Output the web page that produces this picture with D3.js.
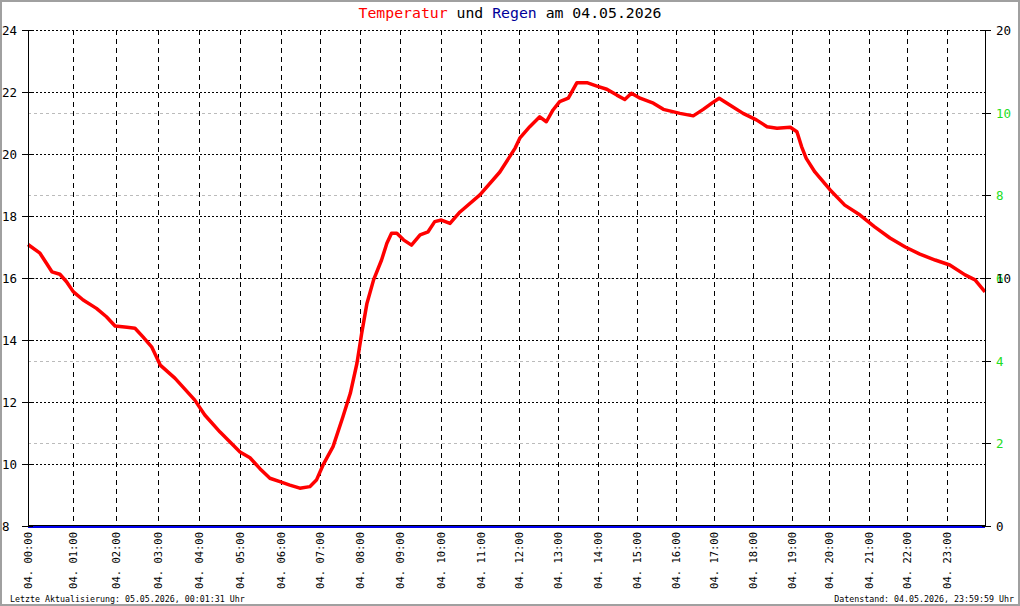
<!DOCTYPE html>
<html lang="de">
<head>
  <meta charset="utf-8" />
  <style>
    body { margin: 0; background: #fff; }
    svg text { font-family: "DejaVu Sans Mono", monospace; }
  </style>
</head>
<body>
<script src="https://cdn.jsdelivr.net/npm/d3@7/dist/d3.min.js"></script>
<script>

// Stundenmarken (Messindex, an dem die Stunde beginnt) und ihre Beschriftung
const stundenIndex = [0, 68, 132, 195, 257, 319, 380, 440, 500, 560, 622, 681, 739,
  798, 857, 916, 975, 1032, 1091, 1149, 1206, 1265, 1323, 1383];
const stundenLabels = ['04. 00:00', '04. 01:00', '04. 02:00', '04. 03:00', '04. 04:00',
  '04. 05:00', '04. 06:00', '04. 07:00', '04. 08:00', '04. 09:00', '04. 10:00',
  '04. 11:00', '04. 12:00', '04. 13:00', '04. 14:00', '04. 15:00', '04. 16:00',
  '04. 17:00', '04. 18:00', '04. 19:00', '04. 20:00', '04. 21:00', '04. 22:00',
  '04. 23:00'];
const anzahlMessungen = 1440;

// Temperaturverlauf (Messindex / Grad C)
const messIndex = [0, 18, 28, 36, 48, 58, 68, 83, 103, 118, 131, 149, 161, 173, 186,
  199, 221, 251, 266, 289, 319, 334, 349, 364, 379, 394, 409, 424, 434, 444, 459,
  474, 485, 495, 502, 510, 520, 532, 540, 547, 555, 565, 577, 590, 602, 612, 622,
  635, 650, 680, 710, 733, 740, 755, 770, 780, 790, 800, 813, 826, 841, 856, 871,
  886, 898, 908, 921, 941, 956, 981, 1001, 1016, 1029, 1040, 1056, 1076, 1096,
  1112, 1127, 1147, 1157, 1164, 1171, 1184, 1207, 1229, 1252, 1274, 1297, 1320,
  1342, 1365, 1387, 1410, 1425, 1440];
const temperatur = [17.08, 16.8, 16.47, 16.2, 16.12, 15.88, 15.56, 15.29, 15.02, 14.75,
  14.45, 14.41, 14.38, 14.1, 13.78, 13.19, 12.77, 12.06, 11.58, 11.03, 10.39, 10.2,
  9.85, 9.54, 9.43, 9.32, 9.22, 9.27, 9.48, 9.97, 10.56, 11.53, 12.28, 13.25, 14.2,
  15.18, 15.94, 16.58, 17.12, 17.44, 17.44, 17.23, 17.06, 17.39, 17.49, 17.82, 17.87,
  17.76, 18.13, 18.68, 19.42, 20.19, 20.51, 20.88, 21.2, 21.04, 21.42, 21.69, 21.8,
  22.3, 22.3, 22.19, 22.09, 21.9, 21.76, 21.96, 21.8, 21.64, 21.44, 21.31, 21.23,
  21.44, 21.64, 21.8, 21.58, 21.31, 21.1, 20.88, 20.83, 20.86, 20.72, 20.24, 19.86,
  19.42, 18.84, 18.35, 18.03, 17.65, 17.29, 17.0, 16.77, 16.58, 16.42, 16.1, 15.94,
  15.55];

// Regen (mm) je Stundenmarke
const regen = [0, 0, 0, 0, 0, 0, 0, 0, 0, 0, 0, 0, 0, 0, 0, 0, 0, 0, 0, 0, 0, 0, 0, 0];

// Achsenbeschriftungen
const tempTicks = [8, 10, 12, 14, 16, 18, 20, 22, 24];
const regenTicks = [0, 10, 20];
const gruenTicks = [2, 4, 6, 8, 10];

const titel = [
  { text: 'Temperatur', farbe: '#ff0000' },
  { text: ' und ', farbe: '#000000' },
  { text: 'Regen', farbe: '#000099' },
  { text: ' am 04.05.2026', farbe: '#000000' }
];
const fussLinks = 'Letzte Aktualisierung: 05.05.2026, 00:01:31 Uhr';
const fussRechts = 'Datenstand: 04.05.2026, 23:59:59 Uhr';

const W = 1020, H = 606;
const margin = { top: 30, right: 35, bottom: 80, left: 28 };
const width = W - margin.left - margin.right;
const height = H - margin.top - margin.bottom;

const svg = d3.select('body').append('svg')
  .attr('width', W).attr('height', H);

svg.append('rect')
  .attr('x', 1).attr('y', 1).attr('width', W - 2).attr('height', H - 2)
  .attr('fill', '#fff').attr('stroke', '#a0a0a0').attr('stroke-width', 2);

const g = svg.append('g')
  .attr('transform', `translate(${margin.left}, ${margin.top})`);

const x = d3.scaleLinear().domain([0, anzahlMessungen]).range([0, width]);
const y = d3.scaleLinear().domain([8, 24]).range([height, 0]);
const yRegen = d3.scaleLinear().domain([0, 20]).range([height, 0]);
const yGruen = d3.scaleLinear().domain([0, 12]).range([height, 0]);

// graue Hilfslinien (gruene Skala)
g.selectAll('.grau')
  .data(gruenTicks)
  .enter().append('line')
  .attr('x1', 0).attr('x2', width)
  .attr('y1', d => Math.round(yGruen(d)) + 0.5)
  .attr('y2', d => Math.round(yGruen(d)) + 0.5)
  .attr('stroke', '#bbbbbb').attr('stroke-dasharray', '3,3')
  .attr('shape-rendering', 'crispEdges');

// horizontale Gitterlinien
g.selectAll('.hgrid')
  .data(tempTicks.slice(1))
  .enter().append('line')
  .attr('x1', 0).attr('x2', width)
  .attr('y1', d => Math.round(y(d)) + 0.5)
  .attr('y2', d => Math.round(y(d)) + 0.5)
  .attr('stroke', '#000').attr('stroke-dasharray', '2,2')
  .attr('shape-rendering', 'crispEdges');

// vertikale Gitterlinien
g.selectAll('.vgrid')
  .data(stundenIndex.slice(1))
  .enter().append('line')
  .attr('x1', d => Math.round(x(d)) + 0.5)
  .attr('x2', d => Math.round(x(d)) + 0.5)
  .attr('y1', 0).attr('y2', height)
  .attr('stroke', '#000').attr('stroke-dasharray', '5,4')
  .attr('shape-rendering', 'crispEdges');

// Temperaturkurve
const punkte = messIndex.map((m, i) => [m, temperatur[i]]);
g.append('path')
  .datum(punkte)
  .attr('fill', 'none')
  .attr('stroke', '#ff0000')
  .attr('stroke-width', 3.5)
  .attr('stroke-linejoin', 'round')
  .attr('d', d3.line().x(d => x(d[0])).y(d => y(d[1])));

// Achsen
const achse = (sel) => sel.attr('stroke', '#000').attr('shape-rendering', 'crispEdges');
g.append('line').call(achse).attr('x1', 0.5).attr('x2', 0.5).attr('y1', 0).attr('y2', height);
g.append('line').call(achse).attr('x1', width + 0.5).attr('x2', width + 0.5).attr('y1', 0).attr('y2', height);
g.append('line').call(achse).attr('x1', 0).attr('x2', width).attr('y1', height - 0.5).attr('y2', height - 0.5);

// Regen (Nulllinie blau)
g.append('path')
  .datum(regen.map((r, i) => [stundenIndex[i], r]).concat([[anzahlMessungen, 0]]))
  .attr('fill', 'none')
  .attr('stroke', '#0000ee')
  .attr('stroke-width', 2)
  .attr('transform', 'translate(0, 1)')
  .attr('d', d3.line().x(d => x(d[0])).y(d => yRegen(d[1])));

// linke Achse
g.selectAll('.ltick')
  .data(tempTicks)
  .enter().append('line')
  .attr('x1', -6).attr('x2', 5)
  .attr('y1', d => Math.round(y(d)) + 0.5).attr('y2', d => Math.round(y(d)) + 0.5)
  .call(achse);
g.selectAll('.llabel')
  .data(tempTicks)
  .enter().append('text')
  .attr('x', -26).attr('y', d => y(d) + 5)
  .attr('font-size', 12.5)
  .text(d => d);

// rechte Achse
g.selectAll('.rtick')
  .data(regenTicks.map(yRegen).concat(gruenTicks.map(yGruen)))
  .enter().append('line')
  .attr('x1', width - 3).attr('x2', width + 6)
  .attr('y1', d => Math.round(d) + 0.5).attr('y2', d => Math.round(d) + 0.5)
  .call(achse);
g.selectAll('.glabel')
  .data(gruenTicks)
  .enter().append('text')
  .attr('x', width + 11).attr('y', d => yGruen(d) + 5)
  .attr('font-size', 12.5).attr('fill', '#22dd22')
  .text(d => d);
g.selectAll('.rlabel')
  .data(regenTicks)
  .enter().append('text')
  .attr('x', width + 11).attr('y', d => yRegen(d) + 5)
  .attr('font-size', 12.5)
  .text(d => d);

// Zeitachse
g.selectAll('.xlabel')
  .data(stundenIndex)
  .enter().append('text')
  .attr('transform', (d) => `translate(${x(d) + 4}, ${height + 6}) rotate(-90)`)
  .attr('text-anchor', 'end')
  .attr('font-size', 10.5)
  .text((d, i) => stundenLabels[i]);

// Titel
svg.append('text')
  .attr('x', W / 2).attr('y', 18)
  .attr('text-anchor', 'middle')
  .attr('font-size', 14.8)
  .selectAll('tspan')
  .data(titel)
  .enter().append('tspan')
  .attr('fill', d => d.farbe)
  .attr('xml:space', 'preserve')
  .style('white-space', 'pre')
  .text(d => d.text);

// Fusszeile
svg.append('text')
  .attr('x', 10).attr('y', 602)
  .attr('font-size', 8.3)
  .text(fussLinks);
svg.append('text')
  .attr('x', W - 6).attr('y', 602)
  .attr('text-anchor', 'end')
  .attr('font-size', 8.3)
  .text(fussRechts);

</script>
</body>
</html>
